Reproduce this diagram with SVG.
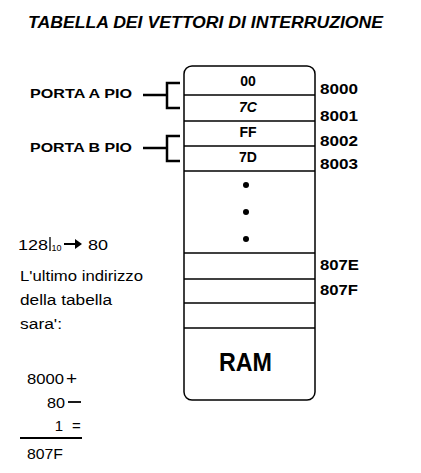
<svg xmlns="http://www.w3.org/2000/svg" width="421" height="473" viewBox="0 0 421 473">
<style>
.t{font-family:"Liberation Sans",Arial,sans-serif;fill:#000}
.title{font-size:16px;font-weight:bold;font-style:italic}
.lab{font-size:13px;font-weight:bold}
.addr{font-size:15px;font-weight:bold}
.cell{font-size:14px;font-weight:bold}
.note{font-size:14px}
.num{font-size:15px}
.box{fill:#fff;stroke:#000;stroke-width:1.5}
.div{stroke:#000;stroke-width:1.3}
.br{fill:none;stroke:#000;stroke-width:2.5}
</style>
<rect width="421" height="473" fill="#fff"/>
<text class="t title" x="28" y="28" textLength="355" lengthAdjust="spacingAndGlyphs">TABELLA DEI VETTORI DI INTERRUZIONE</text>

<g id="table">
<rect class="box" x="184" y="66" width="131" height="334" rx="8"/>
<line class="div" x1="184" y1="95" x2="315" y2="95"/>
<line class="div" x1="184" y1="121" x2="315" y2="121"/>
<line class="div" x1="184" y1="146" x2="315" y2="146"/>
<line class="div" x1="184" y1="171" x2="315" y2="171"/>
<line class="div" x1="184" y1="253" x2="315" y2="253"/>
<line class="div" x1="184" y1="279" x2="315" y2="279"/>
<line class="div" x1="184" y1="303" x2="315" y2="303"/>
<line class="div" x1="184" y1="328" x2="315" y2="328"/>
</g>
<g id="cell-8000"><text class="t cell" x="248" y="86" text-anchor="middle">00</text><text class="t addr" x="320" y="94" textLength="38" lengthAdjust="spacingAndGlyphs">8000</text></g>
<g id="cell-8001"><text class="t cell" x="248" y="112" text-anchor="middle" font-style="italic">7C</text><text class="t addr" x="320" y="121" textLength="38" lengthAdjust="spacingAndGlyphs">8001</text></g>
<g id="cell-8002"><text class="t cell" x="248" y="137" text-anchor="middle">FF</text><text class="t addr" x="320" y="146" textLength="38" lengthAdjust="spacingAndGlyphs">8002</text></g>
<g id="cell-8003"><text class="t cell" x="248" y="162" text-anchor="middle">7D</text><text class="t addr" x="320" y="169" textLength="38" lengthAdjust="spacingAndGlyphs">8003</text></g>
<g id="dots">
<circle cx="246" cy="185" r="3"/>
<circle cx="246" cy="212" r="3"/>
<circle cx="246" cy="239" r="3"/>
</g>
<g id="cell-807E"><text class="t addr" x="320" y="270" textLength="39" lengthAdjust="spacingAndGlyphs">807E</text></g>
<g id="cell-807F"><text class="t addr" x="320" y="295" textLength="38" lengthAdjust="spacingAndGlyphs">807F</text></g>
<g id="ram"><text class="t" x="219" y="371" font-size="25" font-weight="bold" textLength="53" lengthAdjust="spacingAndGlyphs">RAM</text></g>

<g id="porta-a"><text class="t lab" x="30" y="98" textLength="102" lengthAdjust="spacingAndGlyphs">PORTA A PIO</text></g>
<g id="porta-b"><text class="t lab" x="30" y="152" textLength="102" lengthAdjust="spacingAndGlyphs">PORTA B PIO</text></g>

<g id="connectors">
<line class="br" x1="143" y1="95" x2="167" y2="95"/>
<polyline class="br" points="180,83 167,83 167,108 180,108"/>
<line class="br" x1="143" y1="148" x2="167" y2="148"/>
<polyline class="br" points="180,136 167,136 167,161 180,161"/>
</g>

<g id="notes">
<text class="t note" x="18" y="250" textLength="30" lengthAdjust="spacingAndGlyphs">128</text>
<line x1="50" y1="237" x2="50" y2="251" stroke="#000" stroke-width="1.3"/>
<text class="t" x="51.5" y="251" font-size="9">10</text>
<line x1="64" y1="244" x2="76" y2="244" stroke="#000" stroke-width="2"/>
<polygon points="75,239 82,244 75,249"/>
<text class="t note" x="88" y="250" textLength="20" lengthAdjust="spacingAndGlyphs">80</text>
<text class="t note" x="20" y="281" textLength="123" lengthAdjust="spacingAndGlyphs">L'ultimo indirizzo</text>
<text class="t note" x="20" y="305" textLength="92" lengthAdjust="spacingAndGlyphs">della tabella</text>
<text class="t note" x="20" y="329" textLength="42" lengthAdjust="spacingAndGlyphs">sara':</text>
<text class="t num" x="27" y="384" textLength="37" lengthAdjust="spacingAndGlyphs">8000</text>
<text class="t" x="66" y="385" font-size="19">+</text>
<text class="t num" x="47" y="408" textLength="18" lengthAdjust="spacingAndGlyphs">80</text>
<line x1="68" y1="402" x2="81" y2="402" stroke="#000" stroke-width="1.8"/>
<text class="t num" x="63" y="431" text-anchor="end">1</text>
<text class="t num" x="72" y="431">=</text>
<line x1="20" y1="438" x2="82" y2="438" stroke="#000" stroke-width="2"/>
<text class="t num" x="27" y="459" textLength="36" lengthAdjust="spacingAndGlyphs">807F</text>
</g>
</svg>
